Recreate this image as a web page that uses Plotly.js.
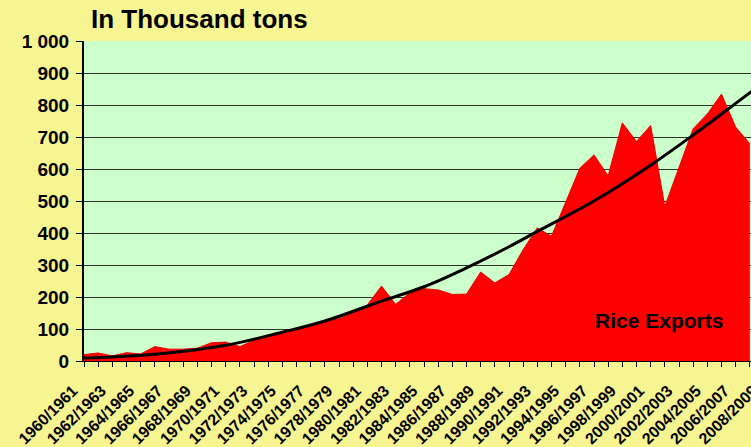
<!DOCTYPE html>
<html>
<head>
<meta charset="utf-8">
<script src="https://cdn.plot.ly/plotly-3.0.1.min.js"></script>
<style>
html, body { margin:0; padding:0; overflow:hidden; background:#F7F592; width:751px; height:447px; }
#chart { width:780px; height:447px; }
</style>
</head>
<body>
<div id="chart"></div>
<script>
// Marketing years (category axis)
const seasons = [
  "1960/1961","1961/1962","1962/1963","1963/1964","1964/1965","1965/1966","1966/1967","1967/1968",
  "1968/1969","1969/1970","1970/1971","1971/1972","1972/1973","1973/1974","1974/1975","1975/1976",
  "1976/1977","1977/1978","1978/1979","1979/1980","1980/1981","1981/1982","1982/1983","1983/1984",
  "1984/1985","1985/1986","1986/1987","1987/1988","1988/1989","1989/1990","1990/1991","1991/1992",
  "1992/1993","1993/1994","1994/1995","1995/1996","1996/1997","1997/1998","1998/1999","1999/2000",
  "2000/2001","2001/2002","2002/2003","2003/2004","2004/2005","2005/2006","2006/2007","2007/2008",
  "2008/2009"
];

// Rice exports, thousand tons
const riceExports = [
  20, 25, 16, 26, 22, 45, 37, 37,
  40, 57, 59, 45, 64, 76, 90, 102,
  113, 121, 132, 151, 175, 234, 177, 213,
  226, 222, 208, 209, 278, 244, 270, 348,
  416, 390, 498, 602, 644, 579, 744, 686,
  736, 483, 605, 726, 772, 834, 731, 679
];

// Trend line, read at a few seasons
const trendSeasons = ["1960/1961","1965/1966","1970/1971","1974/1975","1977/1978","1981/1982",
  "1984/1985","1987/1988","1990/1991","1992/1993","1996/1997","2000/2001","2003/2004","2006/2007","2008/2009"];
const trendValues = [9, 21, 49, 90, 125, 187, 232, 291, 357, 405, 500, 612, 706, 805, 872];

// Axis tick labels
const yTickVals = [0,100,200,300,400,500,600,700,800,900,1000];
const yTickText = ["0","100","200","300","400","500","600","700","800","900","1 000"];
const xTickText = seasons.map((s, i) => (i % 2 === 0 ? s : ""));

const FONT = "Liberation Sans, Arial, Helvetica, sans-serif";
const W = 780, H = 447;

const traces = [
  {
    type: "scatter", mode: "lines",
    x: seasons.slice(0, riceExports.length), y: riceExports,
    fill: "tozeroy", fillcolor: "#FF0000",
    line: { color: "#E60000", width: 1 },
    hoverinfo: "skip", showlegend: false
  },
  {
    type: "scatter", mode: "lines",
    x: trendSeasons, y: trendValues,
    line: { color: "#000000", width: 3, shape: "spline", smoothing: 1 },
    hoverinfo: "skip", showlegend: false
  }
];

const layout = {
  width: W, height: H,
  paper_bgcolor: "#F7F592",
  plot_bgcolor: "#CCFFCC",
  margin: { l: 84, r: 16, t: 41, b: 86, pad: 0 },
  font: { family: FONT, color: "#000000" },
  title: {
    text: "In Thousand tons",
    font: { family: FONT, size: 26, weight: 700, color: "#000000" },
    xref: "container", yref: "container",
    x: 91 / W, xanchor: "left",
    y: 1 - 19 / H, yanchor: "middle"
  },
  xaxis: {
    type: "category",
    categoryorder: "array", categoryarray: seasons,
    range: [0, 48],
    tickmode: "array", tickvals: seasons, ticktext: xTickText,
    tickangle: -45,
    tickfont: { family: FONT, size: 16, weight: 700, color: "#000000" },
    ticklabelstandoff: 8, ticklabelshift: -11,
    ticks: "outside", ticklen: 5, tickwidth: 1, tickcolor: "#000000",
    showline: true, linecolor: "#000000", linewidth: 1,
    showgrid: false, zeroline: false, fixedrange: true
  },
  yaxis: {
    range: [0, 1000],
    tickmode: "array", tickvals: yTickVals, ticktext: yTickText,
    tickfont: { family: FONT, size: 19, weight: 700, color: "#000000" },
    ticks: "outside", ticklen: 6, tickwidth: 1, tickcolor: "#000000",
    ticklabelstandoff: 3,
    showline: true, linecolor: "#000000", linewidth: 2,
    showgrid: true, gridcolor: "#303030", gridwidth: 1,
    zeroline: false, fixedrange: true
  },
  annotations: [
    {
      text: "Rice Exports",
      xref: "paper", yref: "y",
      x: (593 - 84) / (W - 84 - 16), xanchor: "left",
      y: 127, yanchor: "middle",
      showarrow: false,
      font: { family: FONT, size: 21, weight: 700, color: "#000000" }
    }
  ]
};

Plotly.newPlot("chart", traces, layout, { displayModeBar: false, staticPlot: true });
</script>
</body>
</html>
